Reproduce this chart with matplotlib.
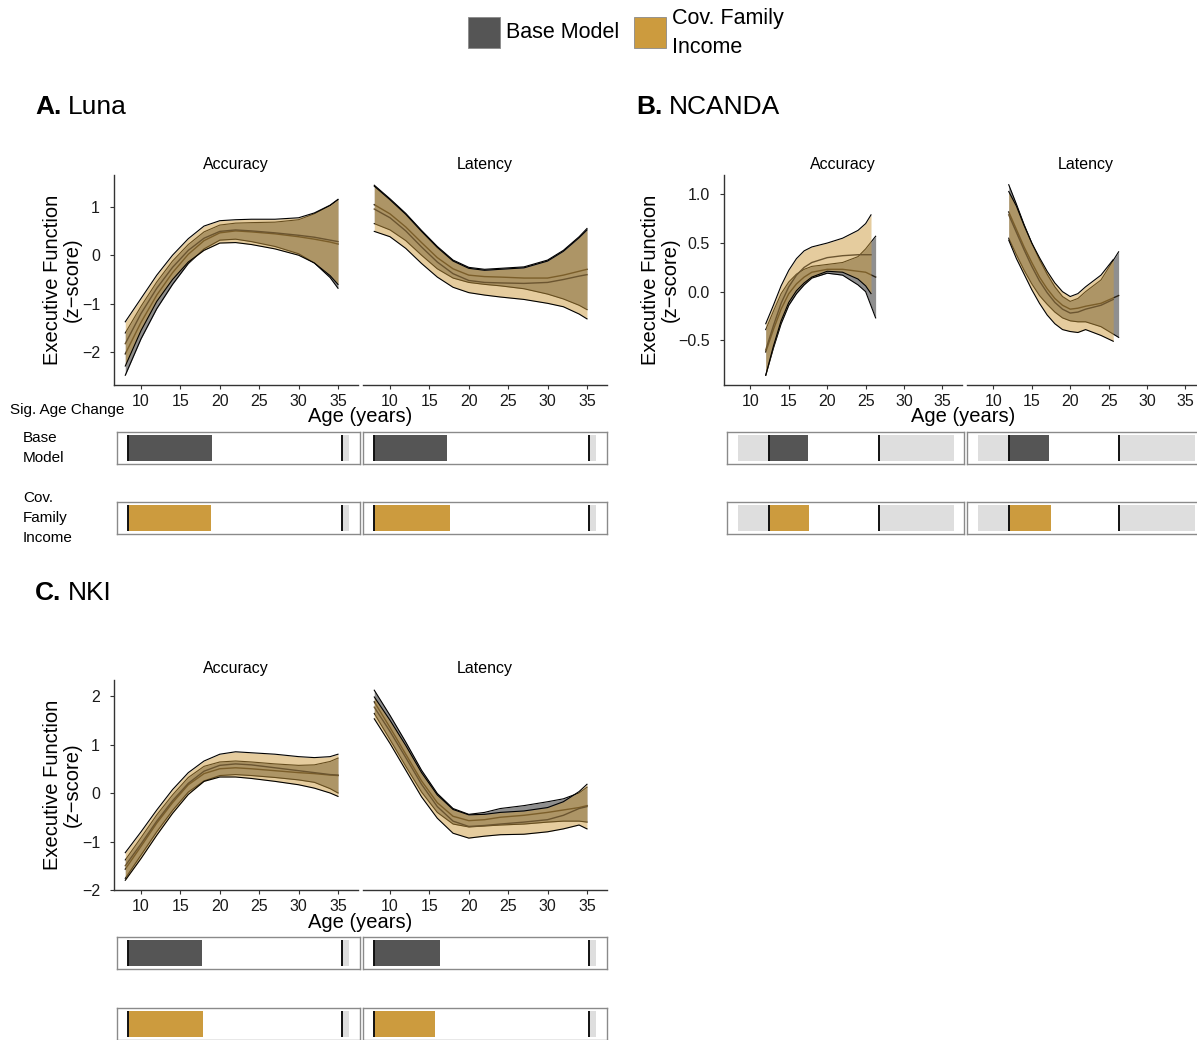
import matplotlib
matplotlib.use('Agg')
import matplotlib.pyplot as plt
from matplotlib.patches import Rectangle

# ---------------- data ----------------
AGE_GRID = [8, 10, 12, 14, 16, 18, 20, 22, 24, 27, 30, 32, 34, 35]

# Luna - Accuracy
luna_acc_base_hi = [-1.6, -1.05, -0.55, -0.12, 0.22, 0.48, 0.62, 0.66, 0.67, 0.68, 0.73, 0.85, 1.02, 1.14]
luna_acc_base_mid = [-2.03, -1.38, -0.82, -0.36, 0.02, 0.3, 0.46, 0.5, 0.48, 0.44, 0.38, 0.33, 0.27, 0.23]
luna_acc_base_lo = [-2.47, -1.72, -1.1, -0.6, -0.17, 0.13, 0.31, 0.33, 0.28, 0.18, 0.03, -0.16, -0.46, -0.68]
luna_acc_cov_hi = [-1.37, -0.89, -0.41, 0.0, 0.34, 0.6, 0.71, 0.73, 0.74, 0.74, 0.77, 0.87, 1.03, 1.15]
luna_acc_cov_mid = [-1.82, -1.2, -0.68, -0.25, 0.1, 0.35, 0.49, 0.52, 0.5, 0.46, 0.41, 0.37, 0.31, 0.28]
luna_acc_cov_lo = [-2.28, -1.55, -0.95, -0.5, -0.14, 0.1, 0.25, 0.26, 0.22, 0.13, 0.0, -0.16, -0.42, -0.6]

# Luna - Latency
luna_lat_base_hi = [1.44, 1.16, 0.86, 0.51, 0.18, -0.1, -0.25, -0.29, -0.27, -0.24, -0.1, 0.1, 0.38, 0.55]
luna_lat_base_mid = [1.04, 0.85, 0.58, 0.26, -0.05, -0.28, -0.41, -0.44, -0.45, -0.47, -0.47, -0.41, -0.33, -0.29]
luna_lat_base_lo = [0.65, 0.52, 0.3, 0.0, -0.28, -0.47, -0.56, -0.6, -0.63, -0.69, -0.8, -0.9, -1.03, -1.12]
luna_lat_cov_hi = [1.42, 1.14, 0.84, 0.49, 0.16, -0.12, -0.27, -0.31, -0.29, -0.26, -0.12, 0.08, 0.36, 0.52]
luna_lat_cov_mid = [0.95, 0.77, 0.5, 0.17, -0.14, -0.38, -0.52, -0.56, -0.57, -0.58, -0.56, -0.5, -0.43, -0.4]
luna_lat_cov_lo = [0.49, 0.38, 0.14, -0.17, -0.45, -0.66, -0.77, -0.82, -0.86, -0.91, -0.99, -1.06, -1.21, -1.31]

# NCANDA - Accuracy
ncanda_acc_base_age = [12, 13, 14, 15, 16, 17, 18, 20, 22, 24, 25, 26.3]
ncanda_acc_base_hi = [-0.39, -0.2, -0.02, 0.1, 0.18, 0.23, 0.26, 0.28, 0.3, 0.36, 0.44, 0.57]
ncanda_acc_base_mid = [-0.62, -0.39, -0.18, -0.02, 0.08, 0.15, 0.2, 0.23, 0.23, 0.21, 0.2, 0.15]
ncanda_acc_base_lo = [-0.86, -0.58, -0.33, -0.14, -0.02, 0.07, 0.14, 0.19, 0.17, 0.07, 0.0, -0.27]
ncanda_acc_cov_age = [12, 13, 14, 15, 16, 17, 18, 20, 22, 24, 25, 25.7]
ncanda_acc_cov_hi = [-0.33, -0.14, 0.06, 0.22, 0.34, 0.42, 0.46, 0.5, 0.55, 0.63, 0.7, 0.79]
ncanda_acc_cov_mid = [-0.6, -0.35, -0.12, 0.05, 0.17, 0.25, 0.3, 0.35, 0.37, 0.38, 0.38, 0.38]
ncanda_acc_cov_lo = [-0.86, -0.56, -0.3, -0.11, 0.01, 0.09, 0.15, 0.21, 0.2, 0.13, 0.06, -0.02]

# NCANDA - Latency
ncanda_lat_base_age = [12, 13, 14, 15, 16, 17, 18, 19, 20, 21, 22, 24, 26.3]
ncanda_lat_base_hi = [1.1, 0.9, 0.69, 0.5, 0.33, 0.18, 0.05, -0.05, -0.1, -0.07, 0.0, 0.12, 0.41]
ncanda_lat_base_mid = [0.82, 0.64, 0.46, 0.3, 0.15, 0.03, -0.07, -0.14, -0.18, -0.17, -0.15, -0.12, -0.04]
ncanda_lat_base_lo = [0.55, 0.38, 0.22, 0.08, -0.04, -0.13, -0.21, -0.27, -0.3, -0.31, -0.31, -0.36, -0.47]
ncanda_lat_cov_age = [12, 13, 14, 15, 16, 17, 18, 19, 20, 21, 22, 24, 25.6]
ncanda_lat_cov_hi = [1.03, 0.88, 0.68, 0.5, 0.35, 0.21, 0.09, 0.0, -0.05, -0.02, 0.05, 0.17, 0.33]
ncanda_lat_cov_mid = [0.79, 0.61, 0.43, 0.26, 0.11, -0.01, -0.11, -0.18, -0.22, -0.21, -0.18, -0.14, -0.08]
ncanda_lat_cov_lo = [0.53, 0.34, 0.18, 0.02, -0.12, -0.24, -0.33, -0.39, -0.41, -0.42, -0.39, -0.45, -0.51]

# NKI - Accuracy
nki_acc_base_hi = [-1.38, -0.92, -0.45, -0.04, 0.32, 0.55, 0.64, 0.66, 0.64, 0.6, 0.57, 0.58, 0.65, 0.72]
nki_acc_base_mid = [-1.57, -1.1, -0.62, -0.2, 0.17, 0.4, 0.5, 0.52, 0.5, 0.46, 0.42, 0.4, 0.37, 0.36]
nki_acc_base_lo = [-1.76, -1.28, -0.8, -0.36, 0.02, 0.25, 0.36, 0.38, 0.36, 0.32, 0.27, 0.22, 0.09, 0.0]
nki_acc_cov_hi = [-1.23, -0.8, -0.35, 0.07, 0.42, 0.66, 0.8, 0.85, 0.83, 0.8, 0.75, 0.73, 0.75, 0.8]
nki_acc_cov_mid = [-1.5, -1.05, -0.58, -0.16, 0.2, 0.45, 0.57, 0.6, 0.58, 0.52, 0.46, 0.42, 0.38, 0.37]
nki_acc_cov_lo = [-1.8, -1.35, -0.87, -0.42, -0.03, 0.24, 0.33, 0.33, 0.3, 0.24, 0.17, 0.1, 0.0, -0.07]

# NKI - Latency
nki_lat_base_hi = [2.12, 1.6, 1.05, 0.47, -0.01, -0.32, -0.44, -0.4, -0.32, -0.26, -0.18, -0.12, 0.0, 0.12]
nki_lat_base_mid = [1.88, 1.35, 0.8, 0.25, -0.2, -0.48, -0.57, -0.55, -0.5, -0.46, -0.4, -0.35, -0.3, -0.26]
nki_lat_base_lo = [1.64, 1.1, 0.55, 0.02, -0.4, -0.64, -0.7, -0.68, -0.66, -0.64, -0.6, -0.58, -0.58, -0.6]
nki_lat_cov_hi = [1.98, 1.5, 0.98, 0.42, -0.04, -0.34, -0.45, -0.44, -0.4, -0.37, -0.3, -0.18, 0.03, 0.18]
nki_lat_cov_mid = [1.77, 1.27, 0.73, 0.18, -0.28, -0.58, -0.69, -0.67, -0.64, -0.6, -0.55, -0.46, -0.32, -0.28]
nki_lat_cov_lo = [1.53, 1.02, 0.47, -0.08, -0.52, -0.83, -0.93, -0.89, -0.86, -0.85, -0.8, -0.74, -0.66, -0.74]

# Significant age-change windows (start, end) and data range per study
RASTER_RANGE = [8.0, 36.2]
luna_range = [8.0, 35.3]
luna_sig_base = {'Accuracy': [8.0, 18.7], 'Latency': [8.0, 17.2]}
luna_sig_cov = {'Accuracy': [8.0, 18.6], 'Latency': [8.0, 17.6]}
ncanda_range = [12.0, 26.4]
ncanda_sig_base = {'Accuracy': [12.0, 17.1], 'Latency': [12.0, 17.2]}
ncanda_sig_cov = {'Accuracy': [12.0, 17.3], 'Latency': [12.0, 17.5]}
nki_range = [8.0, 35.3]
nki_sig_base = {'Accuracy': [8.0, 17.4], 'Latency': [8.0, 16.3]}
nki_sig_cov = {'Accuracy': [8.0, 17.5], 'Latency': [8.0, 15.7]}

X_TICKS = [10, 15, 20, 25, 30, 35]
LEGEND_LABELS = ['Base Model', 'Cov. Family\nIncome']

# ---------------- style ----------------
W, H = 1197, 1040
plt.rcParams['font.family'] = ['Liberation Sans', 'DejaVu Sans']
BASE = '#555555'
COV = '#CC9B3E'
LIGHT = '#DEDEDE'
XLIM = (6.57, 37.54)
AX_COL = '#333333'

fig = plt.figure(figsize=(W / 100, H / 100), dpi=100)


def add_ax(x0, y0, x1, y1):
    return fig.add_axes([x0 / W, 1 - y1 / H, (x1 - x0) / W, (y1 - y0) / H])


def ftext(x, y, s, **kw):
    return fig.text(x / W, 1 - y / H, s, **kw)


def curves(ax, ab, blo, bmid, bhi, ac, clo, cmid, chi):
    ax.fill_between(ab, blo, bhi, color=BASE, alpha=0.66, lw=0, zorder=1)
    ax.plot(ab, blo, color='k', lw=0.8, zorder=2)
    ax.plot(ab, bhi, color='k', lw=0.8, zorder=2)
    ax.plot(ab, bmid, color='#2a2216', lw=1.0, zorder=2)
    ax.fill_between(ac, clo, chi, color=COV, alpha=0.5, lw=0, zorder=3)
    ax.plot(ac, clo, color='k', lw=0.8, zorder=4)
    ax.plot(ac, chi, color='k', lw=0.8, zorder=4)
    ax.plot(ac, cmid, color='#6b5530', lw=1.0, zorder=4)


def style_plot(ax, ylim, yticks, ylabels, first):
    ax.set_xlim(XLIM)
    ax.set_ylim(ylim)
    ax.set_xticks(X_TICKS)
    ax.set_xticklabels([str(t) for t in X_TICKS])
    for s in ['top', 'right']:
        ax.spines[s].set_visible(False)
    ax.spines['bottom'].set_color(AX_COL)
    ax.spines['bottom'].set_linewidth(1.0)
    ax.tick_params(axis='x', length=3, width=0.8, color=AX_COL, labelsize=11.5,
                   pad=3.5, labelcolor='#1a1a1a')
    if first:
        ax.spines['left'].set_color(AX_COL)
        ax.spines['left'].set_linewidth(1.0)
        ax.set_yticks(yticks)
        ax.set_yticklabels(ylabels)
        ax.tick_params(axis='y', length=3, width=0.8, color=AX_COL, labelsize=11.5,
                       pad=7, labelcolor='#1a1a1a')
    else:
        ax.spines['left'].set_visible(False)
        ax.set_yticks([])
    ax.set_facecolor('none')


def bar(ax, sig, color, drange):
    ax.set_xlim(XLIM)
    ax.set_ylim(0, 1)
    y0, y1 = 0.08, 0.92
    if drange[0] > RASTER_RANGE[0]:
        ax.axvspan(RASTER_RANGE[0], drange[0], y0, y1, color=LIGHT, lw=0)
    if RASTER_RANGE[1] > drange[1]:
        ax.axvspan(drange[1], RASTER_RANGE[1], y0, y1, color=LIGHT, lw=0)
    ax.axvspan(sig[0], sig[1], y0, y1, color=color, lw=0)
    ax.vlines(drange, y0, y1, color='#111111', lw=1.4)
    ax.set_xticks([])
    ax.set_yticks([])
    for s in ax.spines.values():
        s.set_color('#8a8a8a')
        s.set_linewidth(1.0)


def study(x_acc, x_lat, ytop, ybot, ylim, yticks, ylabels, acc, lat, bar_rows,
          sig_base, sig_cov, drange, ylab_x, agelab_x):
    a1 = add_ax(x_acc[0], ytop, x_acc[1], ybot)
    a2 = add_ax(x_lat[0], ytop, x_lat[1], ybot)
    curves(a1, *acc)
    curves(a2, *lat)
    style_plot(a1, ylim, yticks, ylabels, True)
    style_plot(a2, ylim, yticks, ylabels, False)
    ftext((x_acc[0] + x_acc[1]) / 2, ytop - 11, 'Accuracy', ha='center', va='center', fontsize=11.5)
    ftext((x_lat[0] + x_lat[1]) / 2, ytop - 11, 'Latency', ha='center', va='center', fontsize=11.5)
    ftext(ylab_x, (ytop + ybot) / 2, 'Executive Function\n(z\u2212score)', rotation=90,
          ha='center', va='center', fontsize=14.5, linespacing=1.05, multialignment='center')
    ftext(agelab_x, ybot + 32, 'Age (years)', ha='center', va='center', fontsize=14.5)
    for (r0, r1), sig, col in zip(bar_rows, [sig_base, sig_cov], [BASE, COV]):
        b1 = add_ax(x_acc[0] + 3, r0, x_acc[1] + 2, r1)
        b2 = add_ax(x_lat[0], r0, x_lat[1], r1)
        bar(b1, sig['Accuracy'], col, drange)
        bar(b2, sig['Latency'], col, drange)


# A. Luna
study((114, 358), (363, 607), 175, 385, (-2.67, 1.65), [-2, -1, 0, 1],
      ['\u22122', '\u22121', '0', '1'],
      (AGE_GRID, luna_acc_base_lo, luna_acc_base_mid, luna_acc_base_hi,
       AGE_GRID, luna_acc_cov_lo, luna_acc_cov_mid, luna_acc_cov_hi),
      (AGE_GRID, luna_lat_base_lo, luna_lat_base_mid, luna_lat_base_hi,
       AGE_GRID, luna_lat_cov_lo, luna_lat_cov_mid, luna_lat_cov_hi),
      [(432, 464), (502, 534)], luna_sig_base, luna_sig_cov, luna_range, 62, 360)

# B. NCANDA
study((724, 962), (967, 1205), 175, 385, (-0.96, 1.2), [-0.5, 0.0, 0.5, 1.0],
      ['\u22120.5', '0.0', '0.5', '1.0'],
      (ncanda_acc_base_age, ncanda_acc_base_lo, ncanda_acc_base_mid, ncanda_acc_base_hi,
       ncanda_acc_cov_age, ncanda_acc_cov_lo, ncanda_acc_cov_mid, ncanda_acc_cov_hi),
      (ncanda_lat_base_age, ncanda_lat_base_lo, ncanda_lat_base_mid, ncanda_lat_base_hi,
       ncanda_lat_cov_age, ncanda_lat_cov_lo, ncanda_lat_cov_mid, ncanda_lat_cov_hi),
      [(432, 464), (502, 534)], ncanda_sig_base, ncanda_sig_cov, ncanda_range, 660, 963)

# C. NKI
study((114, 358), (363, 607), 680, 890, (-2.0, 2.33), [-2, -1, 0, 1, 2],
      ['\u22122', '\u22121', '0', '1', '2'],
      (AGE_GRID, nki_acc_base_lo, nki_acc_base_mid, nki_acc_base_hi,
       AGE_GRID, nki_acc_cov_lo, nki_acc_cov_mid, nki_acc_cov_hi),
      (AGE_GRID, nki_lat_base_lo, nki_lat_base_mid, nki_lat_base_hi,
       AGE_GRID, nki_lat_cov_lo, nki_lat_cov_mid, nki_lat_cov_hi),
      [(937, 969), (1008, 1040)], nki_sig_base, nki_sig_cov, nki_range, 62, 360)

# Panel titles
for (x, y, letter, name) in [(35, 107, 'A.', 'Luna'), (636, 107, 'B.', 'NCANDA'), (35, 593, 'C.', 'NKI')]:
    ftext(x, y, letter, ha='left', va='center', fontsize=19, fontweight='bold')
    ftext(x + 33, y, name, ha='left', va='center', fontsize=19)

# Row labels
ftext(10, 410, 'Sig. Age Change', ha='left', va='center', fontsize=11)
ftext(23, 448, 'Base\nModel', ha='left', va='center', fontsize=11, linespacing=1.5)
ftext(23, 518, 'Cov.\nFamily\nIncome', ha='left', va='center', fontsize=11, linespacing=1.5)

# Legend
for (x0, col, lab) in [(468, BASE, LEGEND_LABELS[0]), (634, COV, LEGEND_LABELS[1])]:
    fig.add_artist(Rectangle((x0 / W, 1 - 48 / H), 32 / W, 31 / H, transform=fig.transFigure,
                             facecolor=col, edgecolor='#8a8a8a', lw=0.6))
    ftext(x0 + 38, 33, lab, ha='left', va='center', fontsize=15.5, linespacing=1.5)

fig.savefig('out.png', dpi=100)
